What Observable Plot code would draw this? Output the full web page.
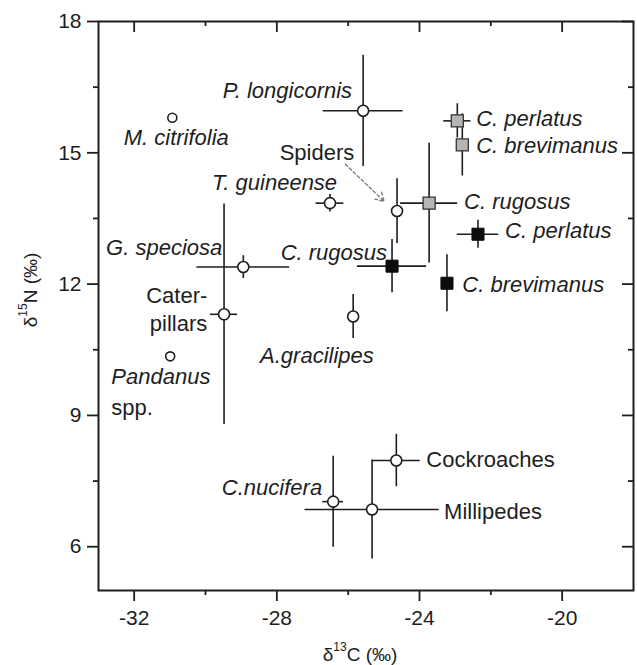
<!DOCTYPE html>
<html>
<head>
<meta charset="utf-8">
<script src="https://cdn.jsdelivr.net/npm/d3@7"></script>
<script src="https://cdn.jsdelivr.net/npm/@observablehq/plot@0.6"></script>
<style>
  body { margin: 0; background: #fff; }
  svg { display: block; }
</style>
</head>
<body>
<div id="chart"></div>
<script>
// ---- data ----
const names = ["M. citrifolia", "Pandanus spp.", "G. speciosa", "Caterpillars", "P. longicornis",
  "T. guineense", "Spiders", "A. gracilipes", "C. nucifera", "Millipedes", "Cockroaches",
  "C. perlatus", "C. brevimanus", "C. rugosus", "C. perlatus", "C. rugosus", "C. brevimanus"];
const kinds = ["open", "open", "open", "open", "open", "open", "open", "open", "open", "open", "open",
  "gray", "gray", "gray", "black", "black", "black"];
const d13C = [-30.93, -30.99, -28.94, -29.48, -25.58, -26.51, -24.63, -25.86, -26.42, -25.33, -24.65,
  -22.94, -22.80, -23.73, -22.36, -24.77, -23.23];
const d15N = [15.80, 10.35, 12.39, 11.31, 15.96, 13.85, 13.67, 11.26, 7.03, 6.85, 7.97,
  15.73, 15.18, 13.85, 13.14, 12.41, 12.02];
const sdC = [0.08, 0, 1.30, 0.38, 1.12, 0.39, 0.10, 0.14, 0.29, 1.88, 0.67,
  0.38, 0.10, 0.80, 0.58, 0.97, 0.10];
const sdN = [0.05, 0, 0.26, 2.52, 1.27, 0.20, 0.74, 0.50, 1.04, 1.13, 0.60,
  0.39, 0.71, 1.37, 0.32, 0.61, 0.65];

// annotation labels (anchor in data units)
const labelText = ["M. citrifolia", "P. longicornis", "Spiders", "T. guineense", "G. speciosa", "C. rugosus",
  "Cater-", "pillars", "Pandanus", "spp.", "A.gracilipes", "C.nucifera", "Cockroaches", "Millipedes",
  "C. perlatus", "C. brevimanus", "C. rugosus", "C. perlatus", "C. brevimanus"];
const labelX = [-30.82, -25.89, -25.83, -26.31, -29.53, -24.91, -29.95, -29.95, -32.64, -32.64, -28.47,
  -26.73, -23.81, -23.31, -22.41, -22.41, -22.75, -21.60, -22.80];
const labelY = [15.34, 16.41, 15.00, 14.31, 12.82, 12.71, 11.72, 11.10, 9.87, 9.18, 10.37,
  7.35, 7.99, 6.80, 15.77, 15.15, 13.87, 13.21, 11.99];
const labelAlign = ["middle", "end", "end", "end", "end", "end", "end", "end", "start", "start", "start",
  "end", "start", "start", "start", "start", "start", "start", "start"];
const plainLabels = ["Spiders", "Cater-", "pillars", "spp.", "Cockroaches", "Millipedes"];

// dashed pointer from "Spiders" to its point
const arrowFrom = [-26.08, 14.74];
const arrowTo = [-24.99, 13.89];

// axis ticks
const xMajor = [-32, -28, -24, -20];
const xMinor = [-30, -26, -22];
const yMajor = [6, 9, 12, 15, 18];
const yMinor = [7.5, 10.5, 13.5, 16.5];

// ---- build tables ----
const points = names.map((n, i) => ({
  name: n, kind: kinds[i], x: d13C[i], y: d15N[i], sx: sdC[i], sy: sdN[i]
}));
const labels = labelText.map((t, i) => ({
  text: t, x: labelX[i], y: labelY[i], align: labelAlign[i], italic: !plainLabels.includes(t)
}));

const W = 637, H = 665;
const mL = 98, mR = 4, mT = 21, mB = 75;
const fw = W - mL - mR, fh = H - mT - mB;
const ink = "#1e1e1e";
const font = "'Liberation Sans', Arial, Helvetica, sans-serif";

const labelMarks = [];
for (const align of ["start", "middle", "end"]) {
  for (const it of [true, false]) {
    const sub = labels.filter(d => d.align === align && d.italic === it);
    if (sub.length) labelMarks.push(Plot.text(sub, {
      x: "x", y: "y", text: "text", textAnchor: align,
      fontStyle: it ? "italic" : "normal", fontSize: 22, fill: ink
    }));
  }
}

const chart = Plot.plot({
  width: W, height: H,
  marginLeft: mL, marginRight: mR, marginTop: mT, marginBottom: mB,
  style: { fontFamily: font, fontSize: "21px", color: ink, background: "#fff", overflow: "visible" },
  x: { domain: [-33, -18] },
  y: { domain: [5, 18] },
  r: { type: "identity" },
  marks: [
    // axes
    Plot.axisX({ ticks: xMajor, anchor: "bottom", tickSize: 11, tickPadding: 9, fontSize: 21,
      tickFormat: d => String(d), strokeWidth: 1.8, label: null }),
    Plot.axisX({ ticks: xMinor, anchor: "bottom", tickSize: 5, fill: "none", strokeWidth: 1.8, label: null }),
    Plot.axisY({ ticks: yMajor, anchor: "left", tickSize: 11, tickPadding: 6, fontSize: 21,
      tickFormat: d => String(d), strokeWidth: 1.8, label: null }),
    Plot.axisY({ ticks: yMinor, anchor: "left", tickSize: 5, fill: "none", strokeWidth: 1.8, label: null }),
    // mirrored inward ticks (top and right)
    Plot.ruleX(xMajor, { x: d => d, insetBottom: fh - 11, stroke: ink, strokeWidth: 1.8 }),
    Plot.ruleX(xMinor, { x: d => d, insetBottom: fh - 5, stroke: ink, strokeWidth: 1.8 }),
    Plot.ruleY(yMajor, { y: d => d, insetLeft: fw - 11, stroke: ink, strokeWidth: 1.8 }),
    Plot.ruleY(yMinor, { y: d => d, insetLeft: fw - 5, stroke: ink, strokeWidth: 1.8 }),
    Plot.frame({ stroke: ink, strokeWidth: 2 }),
    // error bars
    Plot.ruleY(points.filter(d => d.sx > 0), { y: "y", x1: d => d.x - d.sx, x2: d => d.x + d.sx,
      stroke: ink, strokeWidth: 1.6 }),
    Plot.ruleX(points.filter(d => d.sy > 0), { x: "x", y1: d => d.y - d.sy, y2: d => d.y + d.sy,
      stroke: ink, strokeWidth: 1.6 }),
    // pointer arrow
    Plot.arrow([{ x1: arrowFrom[0], y1: arrowFrom[1], x2: arrowTo[0], y2: arrowTo[1] }], {
      x1: "x1", y1: "y1", x2: "x2", y2: "y2", stroke: "#777", strokeWidth: 1.3,
      strokeDasharray: "3,2.5", headLength: 11, bend: 0
    }),
    // markers
    Plot.dot(points.filter(d => d.kind === "open"), { x: "x", y: "y",
      r: d => (d.sx < 0.1 && d.sy < 0.1) ? 4.5 : 5.5, fill: "#fff", stroke: ink, strokeWidth: 1.6 }),
    Plot.dot(points.filter(d => d.kind === "gray"), { x: "x", y: "y", symbol: "square", r: 6.8,
      fill: "#b5b5b5", stroke: "#333", strokeWidth: 1.3 }),
    Plot.dot(points.filter(d => d.kind === "black"), { x: "x", y: "y", symbol: "square", r: 6.8,
      fill: "#0d0d0d", stroke: "#0d0d0d", strokeWidth: 1 }),
    ...labelMarks
  ]
});

document.getElementById("chart").appendChild(chart);

// axis titles with superscripts
const svg = d3.select(chart);
function axisTitle(g, sup, letter) {
  g.attr("font-family", font).attr("font-size", 19).attr("fill", ink).attr("text-anchor", "middle");
  g.append("tspan").text("\u03b4");
  g.append("tspan").attr("font-size", 12).attr("dy", -10).text(sup);
  g.append("tspan").attr("dy", 10).text(letter + " ");
  g.append("tspan").text("(\u2030)");
}
axisTitle(svg.append("text").attr("x", 360).attr("y", 661), "13", "C");
axisTitle(svg.append("text").attr("transform", "translate(37,290) rotate(-90)"), "15", "N");
</script>
</body>
</html>
